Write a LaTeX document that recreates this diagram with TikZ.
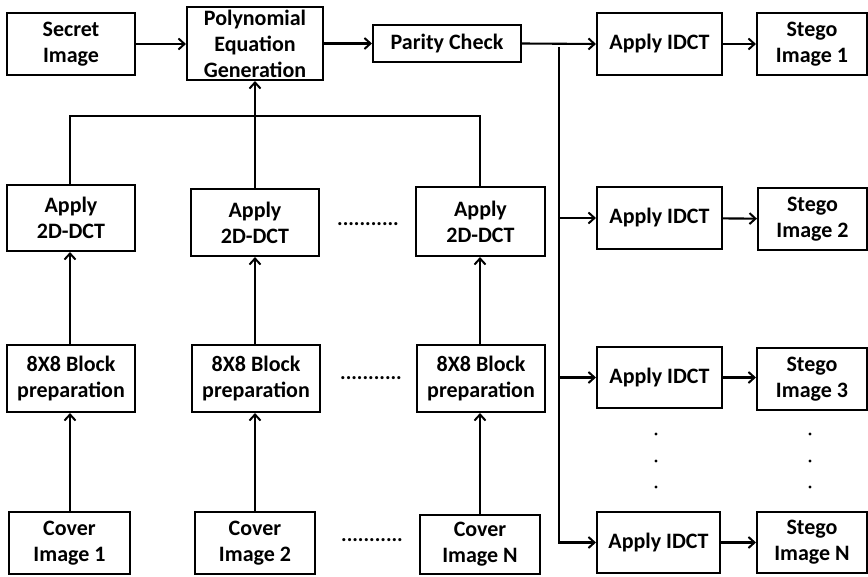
\documentclass[tikz,border=0pt]{standalone}
\usepackage{fontspec}
\setmainfont{Carlito}
\usetikzlibrary{arrows.meta}
\tikzset{
  box/.style={draw, line width=2.1pt, rectangle, align=center, inner sep=0pt,
    font=\fontsize{22}{26}\selectfont\bfseries},
  conn/.style={line width=2.1pt},
  arr/.style={line width=2.1pt, -{Straight Barb[length=6pt,width=11pt,line width=2pt]}},
  dotsnode/.style={font=\fontsize{21}{25}\selectfont\bfseries, inner sep=0pt},
  vdot/.style={fill=black, draw=none, circle, minimum size=3.4pt, inner sep=0pt}
}
\begin{document}
\begin{tikzpicture}[x=1pt,y=-1pt]
\useasboundingbox (0,0) rectangle (868,577);
% top row
\node[box, minimum width=128pt, minimum height=62pt] (secret) at (71,44) {Secret\\Image};
\node[box, minimum width=136pt, minimum height=73pt] (poly) at (255,43.5) {Polynomial\\Equation\\Generation};
\node[box, minimum width=148pt, minimum height=37pt] (parity) at (447,43.5) {Parity Check};
\node[box, minimum width=125pt, minimum height=62pt] (idct1) at (659.5,44) {Apply IDCT};
\node[box, minimum width=110pt, minimum height=62pt] (stego1) at (812,44) {Stego\\Image 1};
% DCT row
\node[box, minimum width=128pt, minimum height=66pt] (dct1) at (71,218) {Apply\\2D-DCT};
\node[box, minimum width=128pt, minimum height=67pt] (dct2) at (255,222.5) {Apply\\2D-DCT};
\node[box, minimum width=129pt, minimum height=69pt] (dct3) at (480.5,221.5) {Apply\\2D-DCT};
\node[box, minimum width=125pt, minimum height=62pt] (idct2) at (659.5,218) {Apply IDCT};
\node[box, minimum width=109pt, minimum height=62pt] (stego2) at (812.5,219) {Stego\\Image 2};
% block row
\node[box, minimum width=128pt, minimum height=67pt] (blk1) at (71,378.5) {8X8 Block\\preparation};
\node[box, minimum width=128pt, minimum height=67pt] (blk2) at (256,378.5) {8X8 Block\\preparation};
\node[box, minimum width=128pt, minimum height=67pt] (blk3) at (481,378.5) {8X8 Block\\preparation};
\node[box, minimum width=125pt, minimum height=61pt] (idct3) at (659.5,377.5) {Apply IDCT};
\node[box, minimum width=110pt, minimum height=62pt] (stego3) at (812,379) {Stego\\Image 3};
% cover row
\node[box, minimum width=121pt, minimum height=62pt] (cov1) at (69.5,543) {Cover\\Image 1};
\node[box, minimum width=120pt, minimum height=62pt] (cov2) at (255,543) {Cover\\Image 2};
\node[box, minimum width=120pt, minimum height=59pt] (cov3) at (480,544.5) {Cover\\Image N};
\node[box, minimum width=123pt, minimum height=61pt] (idctN) at (658.5,542.5) {Apply IDCT};
\node[box, minimum width=110pt, minimum height=61pt] (stegoN) at (812,542.5) {Stego\\Image N};
% dots
\node[dotsnode] (d1) at (368,224) {...........};
\node[dotsnode] (d2) at (371,378) {...........};
\node[dotsnode] (d3) at (372,540) {...........};
\node[vdot] (v1) at (656,434) {};
\node[vdot] (v2) at (656,461) {};
\node[vdot] (v3) at (656,487) {};
\node[vdot] (w1) at (810,434) {};
\node[vdot] (w2) at (810,461) {};
\node[vdot] (w3) at (810,487) {};
% top connections
\draw[arr] (secret) -- (secret.east -| poly.west);
\draw[arr] (poly.east |- parity.west) -- (parity.west);
\draw[arr] (parity.east) -- (idct1.west);
\draw[arr] (idct1) -- (stego1);
% collector bar
\coordinate (barL) at (70,116);
\coordinate (barR) at (480,116);
\draw[conn] (dct1.north -| barL) -- (barL) -- (barR) -- (dct3.north -| barR);
\draw[arr] (dct2.north) -- (poly.south);
% vertical arrows
\draw[arr] (blk1.north -| barL) -- (dct1.south -| barL);
\draw[arr] (blk2.north -| dct2.south) -- (dct2.south);
\draw[arr] (blk3.north -| barR) -- (dct3.south -| barR);
\draw[arr] (cov1.north -| barL) -- (blk1.south -| barL);
\draw[arr] (cov2.north -| dct2.south) -- (blk2.south -| dct2.south);
\draw[arr] (cov3.north -| barR) -- (blk3.south -| barR);
% branch
\coordinate (br) at (559,47);
\draw[arr] (br) |- (idctN.west);
\draw[arr] (br |- idct2.west) -- (idct2.west);
\draw[arr] (br |- idct3.west) -- (idct3.west);
\draw[arr] (idct2) -- (stego2);
\draw[arr] (idct3) -- (stego3.west |- idct3.east);
\draw[arr] (idctN) -- (stegoN);
\end{tikzpicture}
\end{document}
